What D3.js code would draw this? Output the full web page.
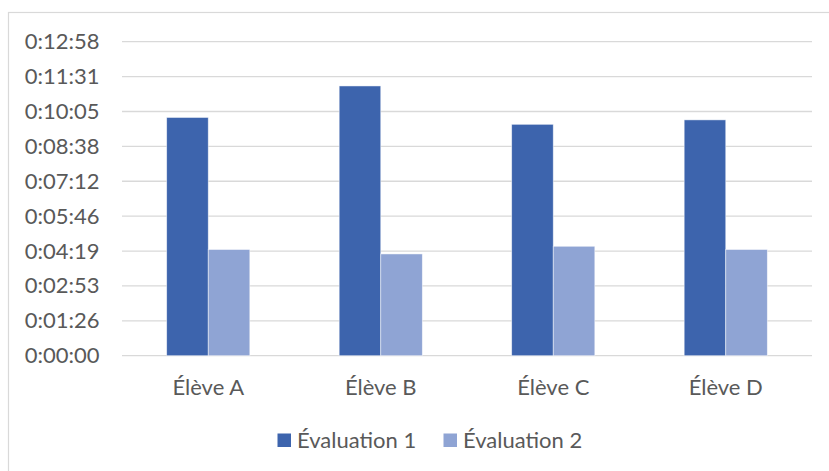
<!DOCTYPE html>
<html>
<head>
<meta charset="utf-8">
<script src="https://cdn.jsdelivr.net/npm/d3@7"></script>
<style>
  body { margin: 0; background: #fff; }
  text { font-family: Lato, "Noto Sans", sans-serif; fill: #595959; }
</style>
</head>
<body>
<svg id="chart" width="829" height="471"></svg>
<script>
// durations in seconds
var eleves = ['Élève A', 'Élève B', 'Élève C', 'Élève D']
var series_names = ['Évaluation 1', 'Évaluation 2']
var evaluation_1 = [590, 668, 573, 584]
var evaluation_2 = [263, 252, 271, 263]
// ticks every 0.001 day (86.4 s), like the spreadsheet
var tick_values = [0, 86.4, 172.8, 259.2, 345.6, 432, 518.4, 604.8, 691.2, 777.6]
var colors = ['#3d64ad', '#8fa4d4']

function fmt_duration(sec) {
  var s = Math.round(sec)
  var h = Math.floor(s / 3600)
  var m = Math.floor((s % 3600) / 60)
  var r = s % 60
  return h + ':' + String(m).padStart(2, '0') + ':' + String(r).padStart(2, '0')
}

var svg = d3.select('#chart')

// outer frame of the chart object
svg.append('rect')
  .attr('x', 8.5).attr('y', 12.5)
  .attr('width', 840).attr('height', 480)
  .attr('fill', 'none')
  .attr('stroke', '#d9d9d9')
  .attr('stroke-width', 1.2)

var left = 122, right = 812, top_y = 41.7, bottom_y = 355.7

var y = d3.scaleLinear().domain([0, 777.6]).range([bottom_y, top_y])
var x = d3.scaleBand().domain(eleves).range([left, right]).padding(0)
var group_w = x.step() * 0.482
var x1 = d3.scaleBand().domain(series_names).range([0, group_w]).padding(0)

// gridlines
svg.append('g')
  .selectAll('line')
  .data(tick_values)
  .join('line')
  .attr('x1', left).attr('x2', right)
  .attr('y1', function(d) { return y(d) })
  .attr('y2', function(d) { return y(d) })
  .attr('stroke', '#d9d9d9')
  .attr('stroke-width', 1.3)

// y axis labels
var y_axis = d3.axisLeft(y).tickValues(tick_values).tickFormat(fmt_duration).tickSize(0).tickPadding(0)
var gy = svg.append('g').attr('transform', 'translate(99.5,0)').call(y_axis)
gy.select('.domain').remove()
gy.selectAll('text')
  .attr('font-size', 22)
  .attr('font-family', 'Lato, "Noto Sans", sans-serif')
  .attr('fill', '#595959')

var rows = eleves.map(function(e, i) {
  return { eleve: e, values: [evaluation_1[i], evaluation_2[i]] }
})

var groups = svg.append('g')
  .selectAll('g')
  .data(rows)
  .join('g')
  .attr('transform', function(d) {
    return 'translate(' + (x(d.eleve) + (x.bandwidth() - group_w) / 2) + ',0)'
  })

groups.selectAll('rect')
  .data(function(d) {
    return d.values.map(function(v, j) { return { name: series_names[j], value: v, idx: j } })
  })
  .join('rect')
  .attr('x', function(d) { return x1(d.name) })
  .attr('width', x1.bandwidth())
  .attr('y', function(d) { return y(d.value) })
  .attr('height', function(d) { return y(0) - y(d.value) })
  .attr('fill', function(d) { return colors[d.idx] })
  .attr('stroke', '#ffffff')
  .attr('stroke-opacity', 0.6)
  .attr('stroke-width', 0.8)

// x axis labels
var x_axis = d3.axisBottom(x).tickSize(0).tickPadding(0)
var gx = svg.append('g').attr('transform', 'translate(0,379)').call(x_axis)
gx.select('.domain').remove()
gx.selectAll('text')
  .attr('font-size', 22)
  .attr('font-family', 'Lato, "Noto Sans", sans-serif')
  .attr('fill', '#595959')

// legend
var legend_x = [277.5, 443.5]
var legend = svg.append('g')
  .selectAll('g')
  .data(series_names)
  .join('g')
  .attr('transform', function(d, i) { return 'translate(' + legend_x[i] + ',433.5)' })
legend.append('rect')
  .attr('width', 13.5).attr('height', 13.5)
  .attr('fill', function(d, i) { return colors[i] })
legend.append('text')
  .attr('x', 19.5).attr('y', 14)
  .attr('font-size', 22)
  .text(function(d) { return d })
</script>
</body>
</html>
